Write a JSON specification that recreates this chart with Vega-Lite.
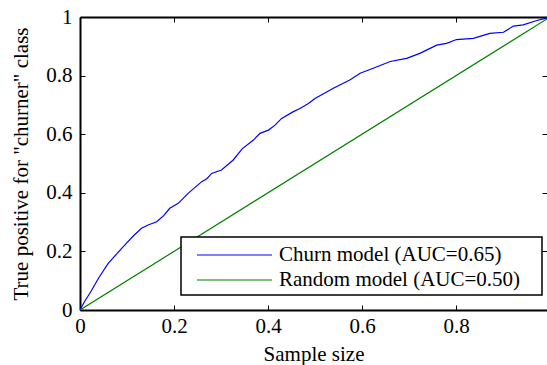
{
  "$schema": "https://vega.github.io/schema/vega-lite/v6.json",
  "width": 467,
  "height": 293,
  "autosize": {"type": "none"},
  "padding": {"left": 80, "top": 17, "right": 0, "bottom": 55},
  "background": "white",
  "config": {
    "view": {"stroke": null},
    "font": "Liberation Serif",
    "axis": {
      "domainColor": "black",
      "domainWidth": 2,
      "tickColor": "black",
      "tickWidth": 1,
      "tickSize": -5,
      "grid": false,
      "labelFlush": false,
      "labelFont": "Liberation Serif",
      "labelFontSize": 21,
      "labelColor": "black",
      "titleFont": "Liberation Serif",
      "titleFontSize": 21,
      "titleFontWeight": "normal",
      "titleColor": "black"
    }
  },
  "data": {
    "values": [
      {"model": "Churn model (AUC=0.65)", "x": 0, "y": 0},
      {"model": "Churn model (AUC=0.65)", "x": 0.01, "y": 0.03},
      {"model": "Churn model (AUC=0.65)", "x": 0.021, "y": 0.057},
      {"model": "Churn model (AUC=0.65)", "x": 0.04, "y": 0.11},
      {"model": "Churn model (AUC=0.65)", "x": 0.06, "y": 0.159},
      {"model": "Churn model (AUC=0.65)", "x": 0.08, "y": 0.195},
      {"model": "Churn model (AUC=0.65)", "x": 0.099, "y": 0.228},
      {"model": "Churn model (AUC=0.65)", "x": 0.115, "y": 0.255},
      {"model": "Churn model (AUC=0.65)", "x": 0.131, "y": 0.279},
      {"model": "Churn model (AUC=0.65)", "x": 0.145, "y": 0.29},
      {"model": "Churn model (AUC=0.65)", "x": 0.163, "y": 0.301},
      {"model": "Churn model (AUC=0.65)", "x": 0.178, "y": 0.322},
      {"model": "Churn model (AUC=0.65)", "x": 0.191, "y": 0.347},
      {"model": "Churn model (AUC=0.65)", "x": 0.209, "y": 0.364},
      {"model": "Churn model (AUC=0.65)", "x": 0.23, "y": 0.398},
      {"model": "Churn model (AUC=0.65)", "x": 0.259, "y": 0.438},
      {"model": "Churn model (AUC=0.65)", "x": 0.27, "y": 0.448},
      {"model": "Churn model (AUC=0.65)", "x": 0.28, "y": 0.466},
      {"model": "Churn model (AUC=0.65)", "x": 0.301, "y": 0.478},
      {"model": "Churn model (AUC=0.65)", "x": 0.326, "y": 0.512},
      {"model": "Churn model (AUC=0.65)", "x": 0.345, "y": 0.55},
      {"model": "Churn model (AUC=0.65)", "x": 0.369, "y": 0.58},
      {"model": "Churn model (AUC=0.65)", "x": 0.383, "y": 0.603},
      {"model": "Churn model (AUC=0.65)", "x": 0.401, "y": 0.614},
      {"model": "Churn model (AUC=0.65)", "x": 0.415, "y": 0.631},
      {"model": "Churn model (AUC=0.65)", "x": 0.429, "y": 0.654},
      {"model": "Churn model (AUC=0.65)", "x": 0.454, "y": 0.677},
      {"model": "Churn model (AUC=0.65)", "x": 0.468, "y": 0.688},
      {"model": "Churn model (AUC=0.65)", "x": 0.486, "y": 0.705},
      {"model": "Churn model (AUC=0.65)", "x": 0.5, "y": 0.722},
      {"model": "Churn model (AUC=0.65)", "x": 0.539, "y": 0.757},
      {"model": "Churn model (AUC=0.65)", "x": 0.574, "y": 0.785},
      {"model": "Churn model (AUC=0.65)", "x": 0.596, "y": 0.808},
      {"model": "Churn model (AUC=0.65)", "x": 0.624, "y": 0.825},
      {"model": "Churn model (AUC=0.65)", "x": 0.66, "y": 0.848},
      {"model": "Churn model (AUC=0.65)", "x": 0.695, "y": 0.859},
      {"model": "Churn model (AUC=0.65)", "x": 0.723, "y": 0.876},
      {"model": "Churn model (AUC=0.65)", "x": 0.759, "y": 0.904},
      {"model": "Churn model (AUC=0.65)", "x": 0.78, "y": 0.91},
      {"model": "Churn model (AUC=0.65)", "x": 0.801, "y": 0.923},
      {"model": "Churn model (AUC=0.65)", "x": 0.837, "y": 0.927},
      {"model": "Churn model (AUC=0.65)", "x": 0.872, "y": 0.944},
      {"model": "Churn model (AUC=0.65)", "x": 0.901, "y": 0.948},
      {"model": "Churn model (AUC=0.65)", "x": 0.922, "y": 0.969},
      {"model": "Churn model (AUC=0.65)", "x": 0.943, "y": 0.973},
      {"model": "Churn model (AUC=0.65)", "x": 0.972, "y": 0.988},
      {"model": "Churn model (AUC=0.65)", "x": 0.993, "y": 0.996},
      {"model": "Churn model (AUC=0.65)", "x": 1, "y": 1},
      {"model": "Random model (AUC=0.50)", "x": 0, "y": 0},
      {"model": "Random model (AUC=0.50)", "x": 1, "y": 1}
    ]
  },
  "encoding": {
    "x": {"field": "x", "type": "quantitative", "scale": {"domain": [0, 0.9936], "nice": false, "zero": false}},
    "y": {"field": "y", "type": "quantitative", "scale": {"domain": [0, 1], "nice": false}}
  },
  "layer": [
    {
      "mark": {"type": "line", "strokeWidth": 1.2, "clip": true},
      "encoding": {
        "x": {"field": "x", "type": "quantitative", "axis": {"orient": "bottom", "values": [0, 0.2, 0.4, 0.6, 0.8], "format": "~g", "labelPadding": 10, "title": "Sample size", "titlePadding": 7}},
        "y": {"field": "y", "type": "quantitative", "axis": {"orient": "left", "values": [0, 0.2, 0.4, 0.6, 0.8, 1], "format": "~g", "labelPadding": 13, "title": "True positive for \"churner\" class", "titlePadding": 14}},
        "color": {
          "field": "model",
          "type": "nominal",
          "scale": {"domain": ["Churn model (AUC=0.65)", "Random model (AUC=0.50)"], "range": ["#0000ff", "#008000"]},
          "legend": {
            "title": null,
            "orient": "none",
            "legendX": 101,
            "legendY": 220,
            "fillColor": "white",
            "strokeColor": "black",
            "padding": 4.5,
            "symbolType": "M-3,0H3M24,0",
            "symbolSize": 625,
            "symbolStrokeWidth": 1.2,
            "labelFont": "Liberation Serif",
            "labelFontSize": 21,
            "labelColor": "black",
            "labelOffset": 31,
            "labelLimit": 400,
            "rowPadding": 1,
            "symbolOffset": 35.5,
            "encode": {"legend": {"update": {"strokeWidth": {"value": 1.5}}}}
          }
        }
      }
    },
    {
      "mark": {"type": "line", "opacity": 0},
      "encoding": {
        "x": {"field": "x", "type": "quantitative", "axis": {"orient": "top", "values": [0, 0.2, 0.4, 0.6, 0.8], "labels": false, "title": null}},
        "y": {"field": "y", "type": "quantitative", "axis": {"orient": "right", "values": [0, 0.2, 0.4, 0.6, 0.8, 1], "labels": false, "title": null, "domain": false}}
      }
    }
  ],
  "resolve": {"axis": {"x": "independent", "y": "independent"}}
}
